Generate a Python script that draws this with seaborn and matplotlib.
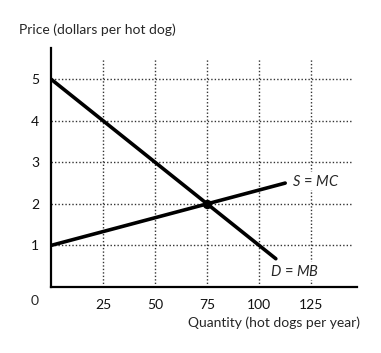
import pandas as pd
import matplotlib.pyplot as plt
import seaborn as sns

# Curve endpoints
demand_q = [0, 108]
demand_p = [5, 0.68]
supply_q = [0, 112.5]
supply_p = [1, 2.5]
eq_q = [75]
eq_p = [2]
x_ticks = [25, 50, 75, 100, 125]
y_ticks = [1, 2, 3, 4, 5]

sns.set_style('white')
plt.rcParams['font.family'] = ['Lato', 'DejaVu Sans']
plt.rcParams['mathtext.fontset'] = 'custom'
plt.rcParams['mathtext.it'] = 'Lato:italic'

df = pd.concat([
    pd.DataFrame({'q': demand_q, 'p': demand_p, 'curve': 'D'}),
    pd.DataFrame({'q': supply_q, 'p': supply_p, 'curve': 'S'}),
])

fig = plt.figure(figsize=(3.81, 3.53), dpi=100)
ax = fig.add_axes([0.134, 0.187, 0.803, 0.677])

# dotted grid, stopping short of the axes ends
for x in x_ticks:
    ax.plot([x, x], [0, 5.5], color='#333333', lw=1.0, ls=(0, (1, 1.5)), zorder=1)
for y in y_ticks:
    ax.plot([0, 145], [y, y], color='#333333', lw=1.0, ls=(0, (1, 1.5)), zorder=1)

sns.lineplot(data=df, x='q', y='p', units='curve', estimator=None,
             color='black', lw=2.6, ax=ax, zorder=3, sort=False)
sns.scatterplot(x=eq_q, y=eq_p, color='black', s=45, ax=ax, zorder=4, linewidth=0)

ax.set_xlim(0, 147)
ax.set_ylim(0, 5.75)
ax.set_xticks(x_ticks)
ax.set_yticks(y_ticks)
ax.set_xticklabels(['25', '50', '75', '100', '125'])
ax.set_yticklabels(['1', '2', '3', '4', '5'])
ax.tick_params(direction='inout', length=5, width=1, labelsize=10, pad=6,
               labelcolor='#111111')
ax.set_xlabel('')
ax.set_ylabel('')
for s in ['top', 'right']:
    ax.spines[s].set_visible(False)
for s in ['left', 'bottom']:
    ax.spines[s].set_linewidth(1.6)
    ax.spines[s].set_color('black')

box = dict(facecolor='white', edgecolor='none', pad=1)
ax.text(-6, -0.33, '0', ha='right', va='center', fontsize=10)
ax.text(116, 2.55, '$S$ = $MC$', fontsize=10.5, ha='left', va='center', bbox=box, zorder=5)
ax.text(105, 0.38, '$D$ = $MB$', fontsize=10.5, ha='left', va='center', bbox=box, zorder=5)

fig.text(0.05, 0.915, 'Price (dollars per hot dog)', fontsize=10, ha='left', va='center')
fig.text(0.945, 0.085, 'Quantity (hot dogs per year)', fontsize=10, ha='right', va='center')

fig.savefig('out.png', dpi=100)
